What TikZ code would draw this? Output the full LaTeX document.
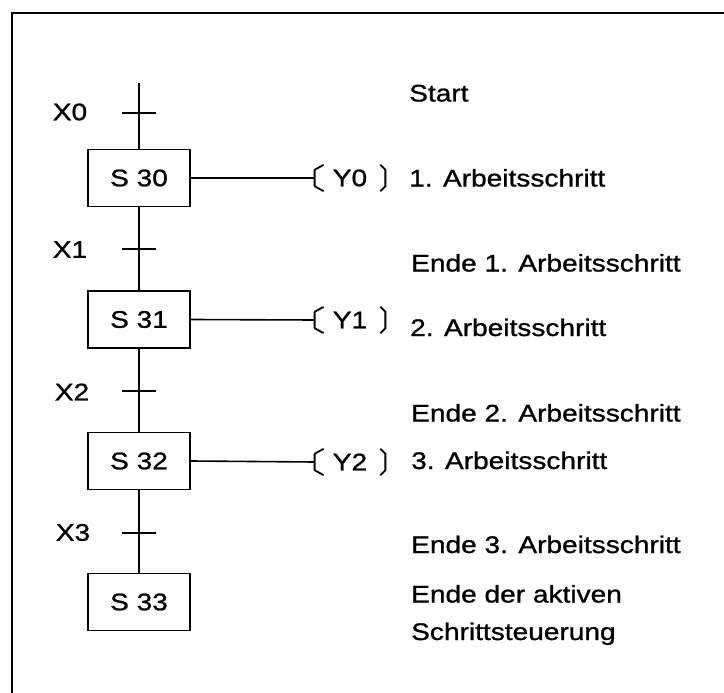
\documentclass[tikz,border=0pt]{standalone}
\usepackage{fontspec}
\setmainfont[FakeStretch=1.17,FakeBold=1]{Liberation Sans}
\begin{document}
\begin{tikzpicture}[x=1pt,y=-1pt,
  every node/.style={font=\fontsize{24}{28}\selectfont},
  frameline/.style={line width=2.2pt},
  wire/.style={line width=1.6pt},
  stepbox/.style={draw, line width=1.8pt, minimum width=102pt, minimum height=57pt, inner sep=0pt},
  coil/.style={inner xsep=18pt, inner ysep=0pt, minimum height=26pt},
  brk/.style={line width=1.8pt, line join=round},
  lbl/.style={inner sep=0pt},
  txt/.style={anchor=base west, inner sep=0pt}]
\useasboundingbox (0,0) rectangle (724,693);
% frame
\draw[frameline] (12,693) -- (12,13) -- (724,13);
% steps
\coordinate (top) at (139,83);
\node[stepbox] (s30) at (139,178) {S 30};
\node[stepbox] (s31) at (139,319.5) {S 31};
\node[stepbox] (s32) at (139,461) {S 32};
\node[stepbox] (s33) at (139,602) {S 33};
% vertical flow
\draw[wire] (top) -- (s30.north);
\draw[wire] (s30.south) -- (s31.north);
\draw[wire] (s31.south) -- (s32.north);
\draw[wire] (s32.south) -- (s33.north);
% transitions
\coordinate (t0) at (139,113);
\coordinate (t1) at (139,249);
\coordinate (t2) at (139,391);
\coordinate (t3) at (139,533);
\foreach \t in {t0,t1,t2,t3} \draw[wire] ([xshift=-17pt]\t) -- ([xshift=17pt]\t);
\node[lbl] (x0) at (70,112) {X0};
\node[lbl] (x1) at (70,249.5) {X1};
\node[lbl] (x2) at (72,392) {X2};
\node[lbl] (x3) at (73,532.5) {X3};
% coils
\node[coil] (y0) at (350,178) {Y0};
\node[coil] (y1) at (350,320) {Y1};
\node[coil] (y2) at (350,462) {Y2};
\draw[wire] (s30.east) -- (y0.west);
\draw[wire] (s31.east) -- (y1.west);
\draw[wire] (s32.east) -- (y2.west);
\foreach \n in {y0,y1,y2} {
  \draw[brk] ([xshift=9pt]\n.north west) -- ([yshift=-5pt]\n.north west)
    -- ([yshift=5pt]\n.south west) -- ([xshift=9pt]\n.south west);
  \draw[brk] ([xshift=-5pt]\n.north east) -- ([yshift=-5pt]\n.north east)
    -- ([yshift=5pt]\n.south east) -- ([xshift=-5pt]\n.south east);
}
% descriptions
\node[txt] (d0) at (409,101.5) {Start};
\node[txt] (d1) at (409,186.5) {1. Arbeitsschritt};
\node[txt] (d2) at (411,271.5) {Ende 1. Arbeitsschritt};
\node[txt] (d3) at (410,336) {2. Arbeitsschritt};
\node[txt] (d4) at (411,421.5) {Ende 2. Arbeitsschritt};
\node[txt] (d5) at (411,469) {3. Arbeitsschritt};
\node[txt] (d6) at (411,553) {Ende 3. Arbeitsschritt};
\node[txt] (d7) at (411,602.5) {Ende der aktiven};
\node[txt] (d8) at (411,640) {Schrittsteuerung};
\end{tikzpicture}
\end{document}
